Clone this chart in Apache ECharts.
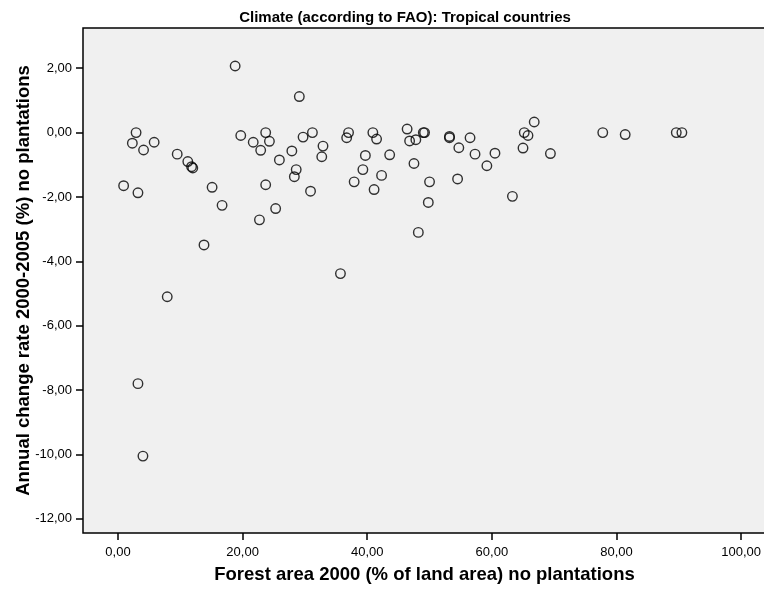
<!DOCTYPE html>
<html>
<head>
<meta charset="utf-8">
<title>Climate (according to FAO): Tropical countries</title>
<script src="https://cdn.jsdelivr.net/npm/echarts@6/dist/echarts.min.js"></script>
<style>
  html, body { margin: 0; padding: 0; background: #fff; overflow: hidden; }
  #chart { width: 764px; height: 589px; }
</style>
</head>
<body>
<div id="chart"></div>
<script>
// forest area 2000 (% of land area), one value per country
var forestArea = [0.9, 2.3, 2.9, 3.2, 3.2, 4.0, 4.1, 5.8, 7.9, 9.5,
  11.2, 11.8, 12.0, 13.8, 15.1, 16.7, 18.8, 19.7, 21.7, 22.7,
  22.9, 23.7, 23.7, 24.3, 25.3, 25.9, 27.9, 28.3, 28.6, 29.1,
  29.7, 30.9, 31.2, 32.7, 32.9, 35.7, 36.7, 37.0, 37.9, 39.3,
  39.7, 40.9, 41.1, 41.5, 42.3, 43.6, 46.4, 46.8, 47.5, 47.8,
  48.2, 49.0, 49.2, 49.8, 50.0, 53.2, 53.2, 54.5, 54.7, 56.5,
  57.3, 59.2, 60.5, 63.3, 65.0, 65.2, 65.8, 66.8, 69.4, 77.8,
  81.4, 89.6, 90.5];

// annual change rate 2000-2005 (%)
var changeRate = [-1.65, -0.33, 0, -1.87, -7.8, -10.05, -0.54, -0.30, -5.10, -0.67,
  -0.90, -1.06, -1.10, -3.49, -1.70, -2.26, 2.07, -0.09, -0.30, -2.71,
  -0.55, 0, -1.62, -0.27, -2.36, -0.85, -0.57, -1.37, -1.15, 1.12,
  -0.14, -1.82, 0, -0.75, -0.42, -4.38, -0.16, 0, -1.53, -1.15,
  -0.71, 0, -1.77, -0.20, -1.33, -0.69, 0.11, -0.26, -0.96, -0.22,
  -3.10, 0, 0, -2.17, -1.53, -0.12, -0.16, -1.44, -0.47, -0.16,
  -0.67, -1.03, -0.64, -1.98, -0.48, 0, -0.09, 0.33, -0.65, 0,
  -0.06, 0, 0];

var xTicks = [0, 20, 40, 60, 80, 100];
var yTicks = [-12, -10, -8, -6, -4, -2, 0, 2];

var points = forestArea.map(function (v, i) { return [v, changeRate[i]]; });

var fmt = function (v) { return v.toFixed(2).replace('.', ','); };
var font = '"Liberation Sans", Arial, sans-serif';

var chart = echarts.init(document.getElementById('chart'));

var option = {
  backgroundColor: '#ffffff',
  animation: false,
  title: {
    text: 'Climate (according to FAO): Tropical countries',
    left: 400,
    top: 5,
    textAlign: 'center',
    textStyle: { fontFamily: font, fontSize: 15, fontWeight: 'bold', color: '#000' }
  },
  grid: {
    left: 83,
    right: -2,
    top: 28,
    bottom: 56,
    outerBoundsMode: 'none',
    show: true,
    backgroundColor: '#f0f0f0',
    borderColor: '#000',
    borderWidth: 1.5
  },
  xAxis: {
    type: 'value',
    min: -5.62,
    max: 104,
    name: 'Forest area 2000 (% of land area) no plantations',
    nameLocation: 'middle',
    nameGap: 32,
    nameTextStyle: { fontFamily: font, fontSize: 18.5, fontWeight: 'bold', color: '#000' },
    axisLine: { show: false, onZero: false },
    splitLine: { show: false },
    axisTick: { show: true, length: 7, customValues: xTicks, lineStyle: { color: '#000', width: 1.5 } },
    axisLabel: { customValues: xTicks, formatter: fmt, margin: 13, fontFamily: font, fontSize: 13, color: '#000' }
  },
  yAxis: {
    type: 'value',
    min: -12.44,
    max: 3.25,
    name: 'Annual change rate 2000-2005 (%) no plantations',
    nameLocation: 'middle',
    nameGap: 50,
    nameMoveOverlap: false,
    nameRotate: 90,
    nameTextStyle: { fontFamily: font, fontSize: 18.5, fontWeight: 'bold', color: '#000' },
    axisLine: { show: false, onZero: false },
    splitLine: { show: false },
    axisTick: { show: true, length: 7, customValues: yTicks, lineStyle: { color: '#000', width: 1.5 } },
    axisLabel: { customValues: yTicks, formatter: fmt, margin: 11, fontFamily: font, fontSize: 13, color: '#000' }
  },
  series: [{
    type: 'scatter',
    data: points,
    symbol: 'circle',
    symbolSize: 9.5,
    itemStyle: { color: 'rgba(0,0,0,0)', borderColor: '#000', borderWidth: 1.4 }
  }]
};

chart.setOption(option);
</script>
</body>
</html>
